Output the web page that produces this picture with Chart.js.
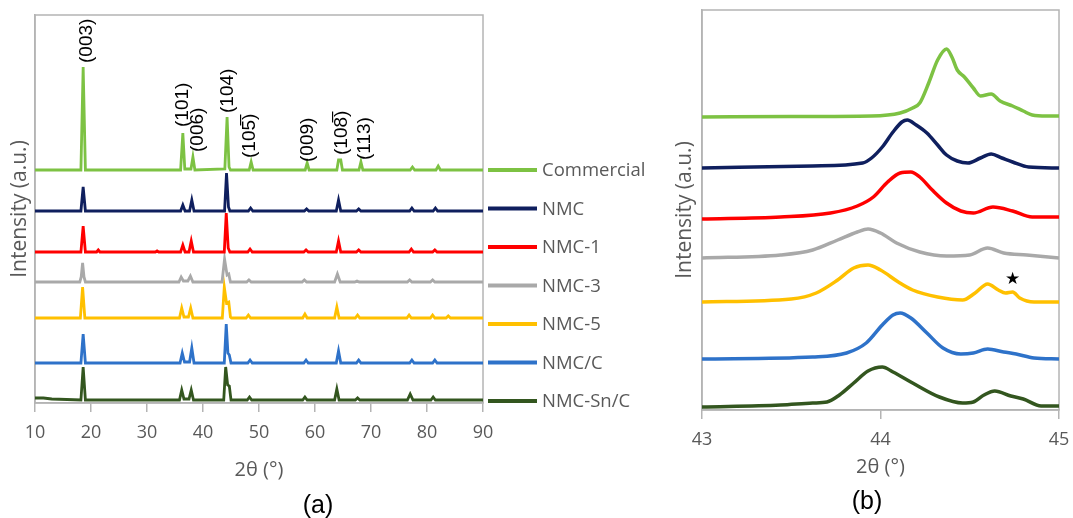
<!DOCTYPE html>
<html>
<head>
<meta charset="utf-8">
<script src="https://cdn.jsdelivr.net/npm/chart.js@4/dist/chart.umd.min.js"></script>
<style>
  html, body { margin: 0; padding: 0; background: #ffffff; }
  #stage { position: relative; width: 1073px; height: 518px; overflow: hidden; background: #fff; }
  canvas { position: absolute; top: 0; }
  #ca { left: 0; }
  #cb { left: 660px; }
  .panel { position: absolute; font-family: 'Liberation Sans', Arial, sans-serif; font-size: 25px; color: #000; transform: translate(-50%, -50%); }
</style>
</head>
<body>
<div id="stage">
  <canvas id="ca" width="660" height="518" style="width:660px;height:518px"></canvas>
  <canvas id="cb" width="413" height="518" style="width:413px;height:518px"></canvas>
  <div class="panel" style="left:318px;top:504px">(a)</div>
  <div class="panel" style="left:867px;top:500px">(b)</div>
</div>
<script>
// ---------- Data ----------
const seriesNames = ['Commercial', 'NMC', 'NMC-1', 'NMC-3', 'NMC-5', 'NMC/C', 'NMC-Sn/C'];
const seriesColors = ['#7DC243', '#0F1F5E', '#FF0000', '#A9A9A9', '#FFC000', '#2E72C9', '#33561F'];

const xTicksA = [10, 20, 30, 40, 50, 60, 70, 80, 90];
const xTicksB = [43, 44, 45];

// Panel (a): 2θ, stacked intensity (a.u.)
const commercialA = [[10,233],[18.2,233],[18.6,336],[19.0,233],[36.0,233],[36.4,270],[36.75,234],[37.85,234],[38.2,246],[38.55,233],[43.9,234],[44.3,286],[44.65,236],[44.9,233],[48.25,233],[48.6,241],[48.95,233],[58.25,233],[58.6,240],[58.95,233],[63.9,233],[64.2,243],[64.6,243],[64.9,233],[67.85,233],[68.2,241],[68.55,233],[77.0,233],[77.4,236],[77.8,233],[81.6,233],[82.0,237],[82.4,233],[90,233]];
const nmcA = [[10,192],[18.2,192],[18.6,216],[19.0,192],[36.0,192],[36.4,198],[36.8,192],[37.6,192],[38.0,203],[38.4,192],[43.85,192],[44.2,230],[44.55,196],[44.8,192],[48.1,192],[48.5,195],[48.9,192],[58.1,192],[58.5,194],[58.9,192],[63.8,192],[64.2,203],[64.6,192],[67.4,192],[67.8,194],[68.2,192],[76.9,192],[77.3,195],[77.7,192],[81.1,192],[81.5,195],[81.9,192],[90,192]];
const nmc1A = [[10,151],[18.2,151],[18.6,177],[19.0,151],[21.0,151],[21.3,153],[21.6,151],[31.5,151],[31.8,152],[32.1,151],[36.0,151],[36.4,158],[36.8,151],[37.5,151],[37.9,162],[38.3,151],[43.8,151],[44.15,190],[44.5,155],[44.8,151],[48.0,151],[48.4,154],[48.8,151],[58.0,151],[58.4,153],[58.8,151],[63.8,151],[64.2,162],[64.6,151],[67.4,151],[67.8,153],[68.2,151],[76.8,151],[77.2,154],[77.6,151],[81.0,151],[81.4,153],[81.8,151],[90,151]];
const nmc3A = [[10,121],[18.0,121],[18.25,126],[18.5,140],[18.75,126],[19.0,121],[35.7,121],[36.1,126],[36.5,122],[37.3,122],[37.75,127],[38.2,121],[43.4,121],[43.85,144],[44.3,128],[44.6,129],[44.9,121],[47.8,121],[48.2,123],[48.6,121],[57.7,121],[58.1,123],[58.5,121],[63.5,121],[64.0,129],[64.5,121],[67.1,121],[67.5,122],[67.9,121],[76.5,121],[76.9,123],[77.3,121],[80.6,121],[81.0,123],[81.4,121],[90,121]];
const nmc5A = [[10,85],[18.1,85],[18.5,116],[18.9,85],[35.8,85],[36.2,95],[36.6,86],[37.4,86],[37.8,95],[38.2,85],[43.45,85],[43.8,116],[44.2,100],[44.6,101],[44.9,86],[45.1,85],[47.7,85],[48.1,88],[48.5,85],[57.8,85],[58.2,89],[58.6,85],[63.5,85],[63.9,96],[64.3,85],[67.2,85],[67.6,88],[68.0,85],[76.4,85],[76.8,88],[77.2,85],[80.6,85],[81.0,88],[81.4,85],[83.4,85],[83.8,87],[84.2,85],[90,85]];
const nmcCA = [[10,40],[18.2,40],[18.6,69],[19.0,40],[35.9,40],[36.3,50],[36.7,41],[37.6,41],[38.0,55],[38.4,40],[43.8,40],[44.15,79],[44.45,50],[44.7,48],[45.0,40],[48.0,40],[48.4,43],[48.8,40],[58.0,40],[58.4,43],[58.8,40],[63.8,40],[64.2,52],[64.6,40],[67.4,40],[67.8,43],[68.2,40],[76.9,40],[77.3,43],[77.7,40],[81.0,40],[81.4,43],[81.8,40],[90,40]];
const nmcSnCA = [[10,5],[11.5,5],[13,4],[18.2,3],[18.6,36],[19.0,3],[35.8,3],[36.2,13],[36.6,4],[37.5,4],[37.9,13],[38.3,3],[43.7,3],[44.05,36],[44.4,18],[44.7,17],[45.0,3],[47.9,3],[48.3,6],[48.7,3],[57.8,3],[58.2,6],[58.6,3],[63.5,3],[63.9,14],[64.3,3],[67.2,3],[67.6,5],[68.0,3],[76.5,3],[77.0,9],[77.5,3],[80.7,3],[81.1,6],[81.5,3],[90,3]];

// Peak (hkl) labels of panel (a)
const peakLabels = ['(003)', '(101)', '(006)', '(104)', '(105\u0305)', '(009)', '(108\u0305)', '(113)'];
const peakLabelX = [19.3, 36.4, 39.1, 44.5, 48.4, 58.7, 64.8, 68.8];
const peakLabelY = [340, 276, 251, 290, 245, 241, 248, 243];

// Panel (b): zoom on the (104) region
const commercialB = [[43,293],[43.5,293.5],[43.95,294],[44.11,297],[44.18,302],[44.22,307],[44.27,327],[44.32,350],[44.37,361],[44.40,353],[44.43,340],[44.47,333],[44.52,322],[44.56,314],[44.62,316],[44.67,309],[44.74,304],[44.80,299],[44.85,295],[44.93,294],[45,294]];
const nmcB = [[43,242],[43.62,244],[43.9,247],[43.95,252],[44.01,263],[44.07,278],[44.12,288],[44.15,290],[44.2,285],[44.26,277],[44.32,265],[44.37,255],[44.43,249],[44.49,247],[44.56,252],[44.62,256],[44.68,252],[44.74,248],[44.83,243],[45,242]];
const nmc1B = [[43,191],[43.44,193],[43.72,197],[43.87,204],[43.96,213],[44.04,228],[44.11,237],[44.17,238],[44.22,233],[44.29,220],[44.37,207],[44.45,199],[44.52,197],[44.63,203],[44.74,199],[44.85,193],[45,193]];
const nmc3B = [[43,152],[43.44,155],[43.62,160],[43.76,170],[43.87,178],[43.93,181],[44.0,177],[44.09,167],[44.22,158],[44.37,154],[44.5,155],[44.6,162],[44.69,157],[44.82,155],[45,152]];
const nmc5B = [[43,108],[43.5,111],[43.64,117],[43.76,130],[43.85,142],[43.93,145],[44.0,140],[44.1,128],[44.18,120],[44.32,113],[44.46,110],[44.53,117],[44.6,126],[44.66,120],[44.7,117],[44.74,118],[44.78,112],[44.86,108],[45,108]];
const nmcCB = [[43,51],[43.62,53],[43.81,57],[43.92,67],[44.01,85],[44.07,95],[44.11,97],[44.17,92],[44.26,77],[44.35,62],[44.45,56],[44.52,57],[44.6,61],[44.69,58],[44.76,56],[44.86,52],[45,51]];
const nmcSnCB = [[43,3],[43.44,5],[43.62,7],[43.7,8],[43.77,15],[43.85,27],[43.93,39],[44.01,43],[44.07,38],[44.18,27],[44.33,13],[44.46,7],[44.52,8],[44.58,15],[44.64,19],[44.73,14],[44.8,11],[44.9,4],[45,4]];

// Star marker of panel (b)
const starX = 44.74;
const starY = 130;
const starText = '\u2605';

const axisTitleX = '2\u03b8 (\u00b0)';
const axisTitleY = 'Intensity (a.u.)';

// ---------- Styling ----------
const GRAY = '#595959';
const AXIS = '#b4b4b4';
Chart.defaults.font.family = "'Open Sans', 'DejaVu Sans', sans-serif";
Chart.defaults.color = GRAY;

const toXY = arr => arr.map(p => ({x: p[0], y: p[1]}));
const seriesA = [commercialA, nmcA, nmc1A, nmc3A, nmc5A, nmcCA, nmcSnCA];
const seriesB = [commercialB, nmcB, nmc1B, nmc3B, nmc5B, nmcCB, nmcSnCB];

const frame = {
  id: 'frame',
  beforeDatasetsDraw(chart) {
    const a = chart.chartArea, c = chart.ctx;
    c.save();
    c.strokeStyle = AXIS; c.lineWidth = 1.5;
    c.strokeRect(a.left, a.top, a.right - a.left, a.bottom - a.top);
    c.restore();
  }
};

const sideLegend = {
  id: 'sideLegend',
  afterDraw(chart) {
    const a = chart.chartArea, c = chart.ctx;
    c.save();
    c.font = "18.5px 'Open Sans', sans-serif";
    c.textBaseline = 'middle';
    c.textAlign = 'left';
    chart.data.datasets.forEach((ds, i) => {
      const y = a.top + 155 + i * 38.5;
      c.strokeStyle = ds.borderColor; c.lineWidth = 4; c.lineCap = 'butt';
      c.beginPath(); c.moveTo(a.right + 5, y); c.lineTo(a.right + 54, y); c.stroke();
      c.fillStyle = GRAY;
      c.fillText(ds.label, a.right + 59, y + 1);
    });
    c.restore();
  }
};

const peakText = {
  id: 'peakText',
  afterDatasetsDraw(chart) {
    const c = chart.ctx, xs = chart.scales.x, ys = chart.scales.y;
    c.save();
    c.font = "19px 'Liberation Sans', Arial, sans-serif";
    c.fillStyle = '#000';
    c.textAlign = 'left';
    c.textBaseline = 'middle';
    peakLabels.forEach((t, i) => {
      c.save();
      c.translate(xs.getPixelForValue(peakLabelX[i]), ys.getPixelForValue(peakLabelY[i]));
      c.rotate(-Math.PI / 2);
      c.fillText(t, 0, 0);
      c.restore();
    });
    c.restore();
  }
};

const starMark = {
  id: 'starMark',
  afterDatasetsDraw(chart) {
    const c = chart.ctx, xs = chart.scales.x, ys = chart.scales.y;
    c.save();
    c.font = "17px 'DejaVu Sans', sans-serif";
    c.fillStyle = '#000';
    c.textAlign = 'center';
    c.textBaseline = 'middle';
    c.fillText(starText, xs.getPixelForValue(starX), ys.getPixelForValue(starY));
    c.restore();
  }
};

function xScale(min, max, ticks, axisH, titlePad) {
  return {
    type: 'linear', min, max,
    afterBuildTicks: s => { s.ticks = ticks.map(v => ({value: v})); },
    afterFit: s => { s.height = axisH; s.paddingLeft = 0; s.paddingRight = 0; },
    ticks: { font: {size: 18}, color: GRAY, padding: 10, maxRotation: 0 },
    grid: { display: true, drawOnChartArea: false, drawTicks: true, tickLength: 9, color: AXIS, lineWidth: 1.5 },
    border: { display: true, color: AXIS, width: 1.5 },
    title: { display: true, text: axisTitleX, font: {size: 20}, color: GRAY, padding: {top: 0, bottom: titlePad} }
  };
}
function yScale(max, axisW, titlePad) {
  return {
    type: 'linear', min: 0, max,
    afterFit: s => { s.width = axisW; s.paddingTop = 0; s.paddingBottom = 0; },
    ticks: { display: false },
    grid: { display: false },
    border: { display: true, color: AXIS, width: 1.5 },
    title: { display: true, text: axisTitleY, font: {size: 21}, color: GRAY, padding: {top: titlePad, bottom: 0} }
  };
}

function datasets(series, width) {
  return series.map((s, i) => ({
    label: seriesNames[i],
    data: toXY(s),
    borderColor: seriesColors[i],
    backgroundColor: seriesColors[i],
    borderWidth: width,
    pointRadius: 0,
    fill: false
  }));
}

new Chart(document.getElementById('ca'), {
  type: 'line',
  data: { datasets: datasets(seriesA, 2.8).map(d => Object.assign(d, {tension: 0})) },
  options: {
    responsive: false, animation: false, devicePixelRatio: 1,
    layout: { padding: {left: 0, top: 15, right: 177, bottom: 0} },
    plugins: { legend: {display: false}, tooltip: {enabled: false} },
    scales: { x: xScale(10, 90, xTicksA, 115, 36), y: yScale(388, 35, 7.4) }
  },
  plugins: [frame, sideLegend, peakText]
});

new Chart(document.getElementById('cb'), {
  type: 'line',
  data: { datasets: datasets(seriesB, 3.5).map(d => Object.assign(d, {cubicInterpolationMode: 'monotone'})) },
  options: {
    responsive: false, animation: false, devicePixelRatio: 1,
    layout: { padding: {left: 0, top: 10, right: 14, bottom: 0} },
    plugins: { legend: {display: false}, tooltip: {enabled: false} },
    scales: { x: xScale(43, 45, xTicksB, 108, 39), y: yScale(400, 42, 12.4) }
  },
  plugins: [frame, starMark]
});
</script>
</body>
</html>
